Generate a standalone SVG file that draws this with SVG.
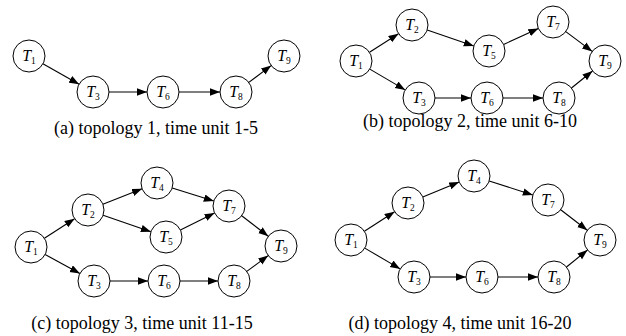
<svg xmlns="http://www.w3.org/2000/svg" width="626" height="336" viewBox="0 0 626 336">
  <defs>
    <marker id="arrow" markerUnits="userSpaceOnUse" markerWidth="11" markerHeight="8" refX="10" refY="3.75" orient="auto">
      <path d="M0,0 L10,3.75 L0,7.5 z" fill="#000"/>
    </marker>
  </defs>
  <style>
    .node circle { fill: #fff; stroke: #000; stroke-width: 1; }
    .node text { font-family: "Liberation Serif", "Times New Roman", serif; font-size: 16px; text-anchor: middle; fill: #000; }
    .node .t { font-style: italic; }
    .node .s { font-size: 9.5px; }
    .edges line { stroke: #000; stroke-width: 1.1; marker-end: url(#arrow); }
    .caption { font-family: "Liberation Serif", "Times New Roman", serif; font-size: 18px; text-anchor: middle; fill: #000; }
  </style>
  <rect width="626" height="336" fill="#fff"/>

  <!-- (a) topology 1 -->
  <g id="edges-a" class="edges">
    <line x1="42.9" y1="63.8" x2="79.1" y2="84.2"/>
    <line x1="109" y1="92" x2="147" y2="92"/>
    <line x1="179" y1="92" x2="220" y2="92"/>
    <line x1="248.8" y1="82.4" x2="271.2" y2="65.6"/>
  </g>
  <g id="a-T1" class="node"><circle cx="29" cy="56" r="16"/><text x="29" y="61"><tspan class="t">T</tspan><tspan class="s" dy="3">1</tspan></text></g>
  <g id="a-T3" class="node"><circle cx="93" cy="92" r="16"/><text x="93" y="97"><tspan class="t">T</tspan><tspan class="s" dy="3">3</tspan></text></g>
  <g id="a-T6" class="node"><circle cx="163" cy="92" r="16"/><text x="163" y="97"><tspan class="t">T</tspan><tspan class="s" dy="3">6</tspan></text></g>
  <g id="a-T8" class="node"><circle cx="236" cy="92" r="16"/><text x="236" y="97"><tspan class="t">T</tspan><tspan class="s" dy="3">8</tspan></text></g>
  <g id="a-T9" class="node"><circle cx="284" cy="56" r="16"/><text x="284" y="61"><tspan class="t">T</tspan><tspan class="s" dy="3">9</tspan></text></g>
  <text class="caption" x="156" y="134">(a) topology 1, time unit 1-5</text>

  <!-- (b) topology 2 -->
  <g id="edges-b" class="edges">
    <line x1="369.5" y1="52.3" x2="398.5" y2="33.7"/>
    <line x1="427.2" y1="30.1" x2="473.8" y2="45.9"/>
    <line x1="503.6" y1="44.4" x2="538.4" y2="28.6"/>
    <line x1="565.8" y1="31.6" x2="592.2" y2="51.4"/>
    <line x1="369.8" y1="69.1" x2="405.2" y2="89.9"/>
    <line x1="435" y1="98" x2="471" y2="98"/>
    <line x1="503" y1="98" x2="543" y2="98"/>
    <line x1="571.5" y1="88" x2="592.5" y2="71"/>
  </g>
  <g id="b-T1" class="node"><circle cx="356" cy="61" r="16"/><text x="356" y="66"><tspan class="t">T</tspan><tspan class="s" dy="3">1</tspan></text></g>
  <g id="b-T2" class="node"><circle cx="412" cy="25" r="16"/><text x="412" y="30"><tspan class="t">T</tspan><tspan class="s" dy="3">2</tspan></text></g>
  <g id="b-T5" class="node"><circle cx="489" cy="51" r="16"/><text x="489" y="56"><tspan class="t">T</tspan><tspan class="s" dy="3">5</tspan></text></g>
  <g id="b-T7" class="node"><circle cx="553" cy="22" r="16"/><text x="553" y="27"><tspan class="t">T</tspan><tspan class="s" dy="3">7</tspan></text></g>
  <g id="b-T9" class="node"><circle cx="605" cy="61" r="16"/><text x="605" y="66"><tspan class="t">T</tspan><tspan class="s" dy="3">9</tspan></text></g>
  <g id="b-T3" class="node"><circle cx="419" cy="98" r="16"/><text x="419" y="103"><tspan class="t">T</tspan><tspan class="s" dy="3">3</tspan></text></g>
  <g id="b-T6" class="node"><circle cx="487" cy="98" r="16"/><text x="487" y="103"><tspan class="t">T</tspan><tspan class="s" dy="3">6</tspan></text></g>
  <g id="b-T8" class="node"><circle cx="559" cy="98" r="16"/><text x="559" y="103"><tspan class="t">T</tspan><tspan class="s" dy="3">8</tspan></text></g>
  <text class="caption" x="470" y="127">(b) topology 2, time unit 6-10</text>

  <!-- (c) topology 3 -->
  <g id="edges-c" class="edges">
    <line x1="44.4" y1="238.3" x2="74.6" y2="218.7"/>
    <line x1="102.9" y1="204.2" x2="142.1" y2="188.8"/>
    <line x1="103.1" y1="215.2" x2="150.9" y2="231.8"/>
    <line x1="172.2" y1="187.9" x2="213.8" y2="201.1"/>
    <line x1="180.4" y1="229.9" x2="214.6" y2="213.1"/>
    <line x1="241.7" y1="215.8" x2="268.3" y2="236.2"/>
    <line x1="45.1" y1="254.6" x2="79.9" y2="273.4"/>
    <line x1="110" y1="281" x2="148" y2="281"/>
    <line x1="180" y1="281" x2="218" y2="281"/>
    <line x1="246.8" y1="271.4" x2="268.2" y2="255.6"/>
  </g>
  <g id="c-T1" class="node"><circle cx="31" cy="247" r="16"/><text x="31" y="252"><tspan class="t">T</tspan><tspan class="s" dy="3">1</tspan></text></g>
  <g id="c-T2" class="node"><circle cx="88" cy="210" r="16"/><text x="88" y="215"><tspan class="t">T</tspan><tspan class="s" dy="3">2</tspan></text></g>
  <g id="c-T4" class="node"><circle cx="157" cy="183" r="16"/><text x="157" y="188"><tspan class="t">T</tspan><tspan class="s" dy="3">4</tspan></text></g>
  <g id="c-T5" class="node"><circle cx="166" cy="237" r="16"/><text x="166" y="242"><tspan class="t">T</tspan><tspan class="s" dy="3">5</tspan></text></g>
  <g id="c-T7" class="node"><circle cx="229" cy="206" r="16"/><text x="229" y="211"><tspan class="t">T</tspan><tspan class="s" dy="3">7</tspan></text></g>
  <g id="c-T9" class="node"><circle cx="281" cy="246" r="16"/><text x="281" y="251"><tspan class="t">T</tspan><tspan class="s" dy="3">9</tspan></text></g>
  <g id="c-T3" class="node"><circle cx="94" cy="281" r="16"/><text x="94" y="286"><tspan class="t">T</tspan><tspan class="s" dy="3">3</tspan></text></g>
  <g id="c-T6" class="node"><circle cx="164" cy="281" r="16"/><text x="164" y="286"><tspan class="t">T</tspan><tspan class="s" dy="3">6</tspan></text></g>
  <g id="c-T8" class="node"><circle cx="234" cy="281" r="16"/><text x="234" y="286"><tspan class="t">T</tspan><tspan class="s" dy="3">8</tspan></text></g>
  <text class="caption" x="142" y="329">(c) topology 3, time unit 11-15</text>

  <!-- (d) topology 4 -->
  <g id="edges-d" class="edges">
    <line x1="364.4" y1="231.3" x2="394.6" y2="211.7"/>
    <line x1="422.8" y1="196.9" x2="459.2" y2="182.1"/>
    <line x1="489.2" y1="180.9" x2="532.8" y2="195.1"/>
    <line x1="560.7" y1="209.8" x2="587.3" y2="230.2"/>
    <line x1="364.8" y1="248.1" x2="400.2" y2="268.9"/>
    <line x1="430" y1="277" x2="466" y2="277"/>
    <line x1="498" y1="277" x2="538" y2="277"/>
    <line x1="566.5" y1="267" x2="587.5" y2="250"/>
  </g>
  <g id="d-T1" class="node"><circle cx="351" cy="240" r="16"/><text x="351" y="245"><tspan class="t">T</tspan><tspan class="s" dy="3">1</tspan></text></g>
  <g id="d-T2" class="node"><circle cx="408" cy="203" r="16"/><text x="408" y="208"><tspan class="t">T</tspan><tspan class="s" dy="3">2</tspan></text></g>
  <g id="d-T4" class="node"><circle cx="474" cy="176" r="16"/><text x="474" y="181"><tspan class="t">T</tspan><tspan class="s" dy="3">4</tspan></text></g>
  <g id="d-T7" class="node"><circle cx="548" cy="200" r="16"/><text x="548" y="205"><tspan class="t">T</tspan><tspan class="s" dy="3">7</tspan></text></g>
  <g id="d-T9" class="node"><circle cx="600" cy="240" r="16"/><text x="600" y="245"><tspan class="t">T</tspan><tspan class="s" dy="3">9</tspan></text></g>
  <g id="d-T3" class="node"><circle cx="414" cy="277" r="16"/><text x="414" y="282"><tspan class="t">T</tspan><tspan class="s" dy="3">3</tspan></text></g>
  <g id="d-T6" class="node"><circle cx="482" cy="277" r="16"/><text x="482" y="282"><tspan class="t">T</tspan><tspan class="s" dy="3">6</tspan></text></g>
  <g id="d-T8" class="node"><circle cx="554" cy="277" r="16"/><text x="554" y="282"><tspan class="t">T</tspan><tspan class="s" dy="3">8</tspan></text></g>
  <text class="caption" x="460" y="329">(d) topology 4, time unit 16-20</text>
</svg>
